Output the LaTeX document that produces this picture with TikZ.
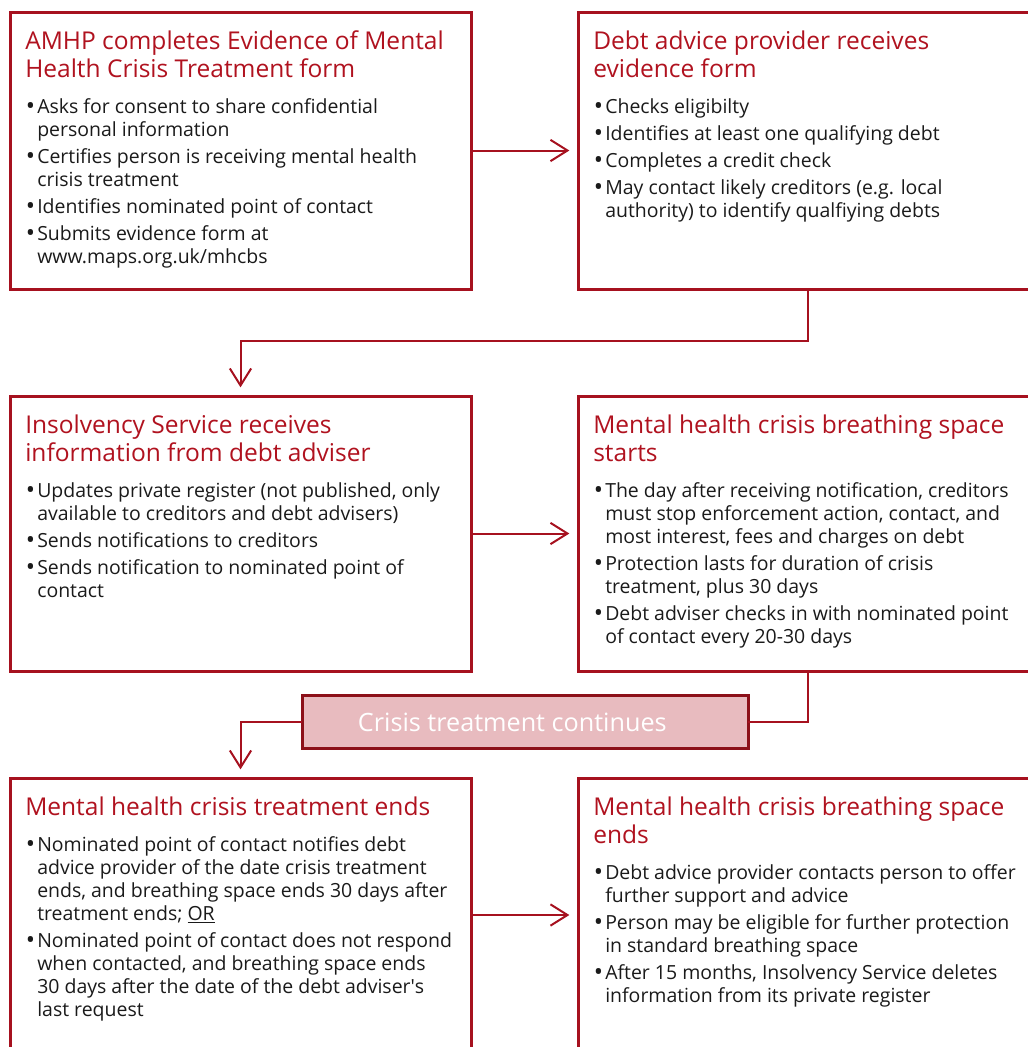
\documentclass[tikz,border=0pt]{standalone}
\usepackage{fontspec}
\setmainfont{Open Sans}
\usetikzlibrary{arrows.meta,calc}
\newcommand{\Px}{0.75pt}
\newcommand{\Frame}{2.25pt}
\newcommand{\Wire}{1.5pt}
\newcommand{\LeftW}{461}
\newcommand{\RightW}{460}
\newcommand{\Dot}{\hspace{-1.8pt}\raisebox{-1.3pt}{\fontsize{18.5pt}{17pt}\selectfont •}}
\definecolor{mapsred}{HTML}{A6111F}
\definecolor{headred}{HTML}{B0121F}
\definecolor{crisisfill}{HTML}{E8BBBF}
\definecolor{crisisedge}{HTML}{8C1019}
\definecolor{ink}{HTML}{1A1A1A}
\newenvironment{headlines}{\begin{tabular}[t]{@{}l@{}}}{\end{tabular}}
\newenvironment{points}{\begin{tabular}[t]{@{}p{6.75pt}@{}l@{}}}{\end{tabular}}

\begin{document}
\begin{tikzpicture}[x=\Px,y=-\Px, line join=miter,
  stage/.style={draw=mapsred, line width=\Frame, anchor=north west, inner sep=0, outer sep=0},
  headline/.style={anchor=base west, inner sep=0, text=headred, font=\fontsize{18.4pt}{21pt}\selectfont},
  detail/.style={anchor=base west, inner sep=0, text=ink, font=\fontsize{14.6pt}{17.25pt}\selectfont},
  pause/.style={draw=crisisedge, fill=crisisfill, line width=\Frame, inner sep=0, outer sep=0,
    text=white, font=\fontsize{18.9pt}{22pt}\selectfont},
  wire/.style={draw=mapsred, line width=\Wire},
  link/.style={wire, -{Straight Barb[length=12.75pt,width=16pt]}, shorten >=6.5pt}]

  \useasboundingbox (0,0) rectangle (1028,1047);
  \clip (0,0) rectangle (1028,1047);

  % ---- the six stages ------------------------------------------------------
  % The right column and the bottom row run off the edge of the page.
  \node[stage, minimum width=\LeftW*\Px, minimum height=277*\Px] (amhp) at (10,12) {};
  \node[stage, minimum width=\RightW*\Px, minimum height=277*\Px] (provider) at (578,12) {};
  \node[stage, minimum width=\LeftW*\Px, minimum height=275*\Px] (insolv) at (10,396) {};
  \node[stage, minimum width=\RightW*\Px, minimum height=275*\Px] (starts) at (578,396) {};
  \node[stage, minimum width=\LeftW*\Px, minimum height=274*\Px] (treatend) at (10,778) {};
  \node[stage, minimum width=\RightW*\Px, minimum height=274*\Px] (spaceend) at (578,778) {};

  % ---- the loop back while treatment goes on --------------------------------
  % The label sits a little left of the middle, as in the original.
  \node[pause, minimum width=446*\Px, minimum height=53*\Px] (crisis) at (525,722)
    {\raisebox{-1.5pt}{Crisis treatment continues}\kern19pt};

  % ---- what each stage says --------------------------------------------------
  \node[headline] (amhptitle) at ($(amhp.north west)+(15,37)$) {\begin{headlines}
    AMHP completes Evidence of Mental\\
    Health Crisis Treatment form
  \end{headlines}};
  \node[detail] (amhplist) at ($(amhp.north west)+(18,101)$) {\begin{points}
    \Dot & Asks for consent to share confidential\\
      & personal information\\[3pt]
    \Dot & Certifies person is receiving mental health\\
      & crisis treatment\\[3pt]
    \Dot & Identifies nominated point of contact\\[3pt]
    \Dot & Submits evidence form at\\
      & www.maps.org.uk/mhcbs
  \end{points}};

  \node[headline] (providertitle) at ($(provider.north west)+(15,37)$) {\begin{headlines}
    Debt advice provider receives\\
    evidence form
  \end{headlines}};
  \node[detail] (providerlist) at ($(provider.north west)+(18,101)$) {\begin{points}
    \Dot & Checks eligibilty\\[3pt]
    \Dot & Identifies at least one qualifying debt\\[3pt]
    \Dot & Completes a credit check\\[3pt]
    \Dot & May contact likely creditors (e.g. local\\
      & authority) to identify qualfiying debts
  \end{points}};

  \node[headline] (insolvtitle) at ($(insolv.north west)+(15,37)$) {\begin{headlines}
    Insolvency Service receives\\
    information from debt adviser
  \end{headlines}};
  \node[detail] (insolvlist) at ($(insolv.north west)+(18,101)$) {\begin{points}
    \Dot & Updates private register (not published, only\\
      & available to creditors and debt advisers)\\[3pt]
    \Dot & Sends notifications to creditors\\[3pt]
    \Dot & Sends notification to nominated point of\\
      & contact
  \end{points}};

  \node[headline] (startstitle) at ($(starts.north west)+(15,37)$) {\begin{headlines}
    Mental health crisis breathing space\\
    starts
  \end{headlines}};
  \node[detail] (startslist) at ($(starts.north west)+(18,101)$) {\begin{points}
    \Dot & The day after receiving notification, creditors\\
      & must stop enforcement action, contact, and\\
      & most interest, fees and charges on debt\\[3pt]
    \Dot & Protection lasts for duration of crisis\\
      & treatment, plus 30 days\\[3pt]
    \Dot & Debt adviser checks in with nominated point\\
      & of contact every 20-30 days
  \end{points}};

  \node[headline] (treatendtitle) at ($(treatend.north west)+(15,37)$) {\begin{headlines}
    Mental health crisis treatment ends
  \end{headlines}};
  \node[detail] (treatendlist) at ($(treatend.north west)+(18,73)$) {\begin{points}
    \Dot & Nominated point of contact notifies debt\\
      & advice provider of the date crisis treatment\\
      & ends, and breathing space ends 30 days after\\
      & treatment ends; \underline{OR}\\[3pt]
    \Dot & Nominated point of contact does not respond\\
      & when contacted, and breathing space ends\\
      & 30 days after the date of the debt adviser\textquotesingle s\\
      & last request
  \end{points}};

  \node[headline] (spaceendtitle) at ($(spaceend.north west)+(15,37)$) {\begin{headlines}
    Mental health crisis breathing space\\
    ends
  \end{headlines}};
  \node[detail] (spaceendlist) at ($(spaceend.north west)+(18,101)$) {\begin{points}
    \Dot & Debt advice provider contacts person to offer\\
      & further support and advice\\[3pt]
    \Dot & Person may be eligible for further protection\\
      & in standard breathing space\\[3pt]
    \Dot & After 15 months, Insolvency Service deletes\\
      & information from its private register
  \end{points}};

  % ---- the connectors ----------------------------------------------------------
  \draw[link] (amhp.east) -- (provider.west);
  \draw[link] (provider.south) -- ++(0,52) -| (insolv.north);
  \draw[link] (insolv.east) -- (starts.west);
  \draw[wire] (starts.south) |- (crisis.east);
  \draw[link] (crisis.west) -| (treatend.north);
  \draw[link] (treatend.east) -- (spaceend.west);

\end{tikzpicture}
\end{document}
